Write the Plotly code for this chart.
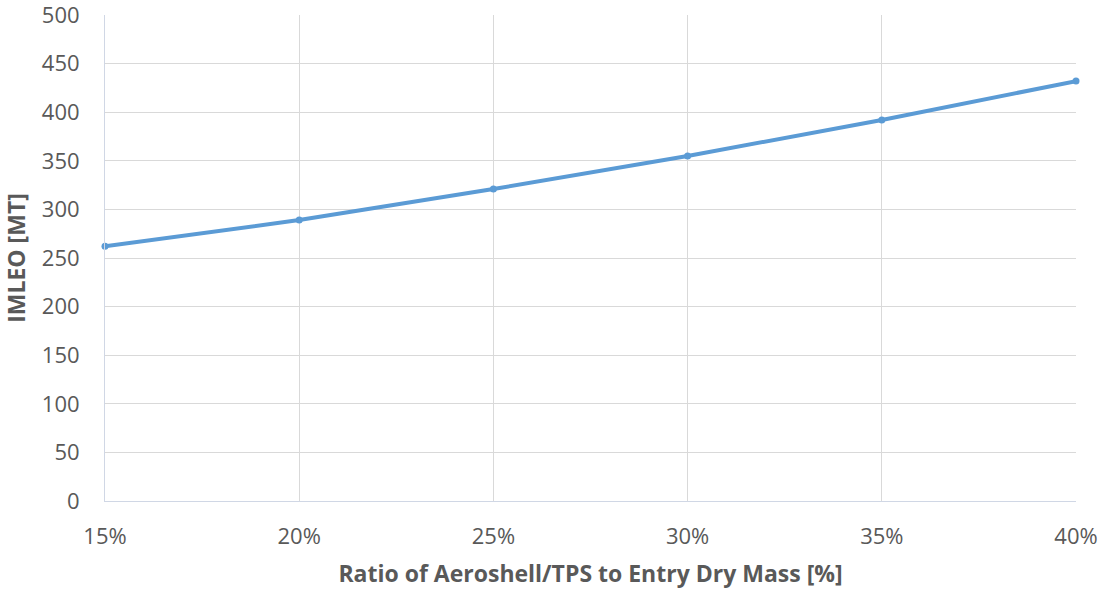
import plotly.graph_objects as go

ratio_pct = [15, 20, 25, 30, 35, 40]
imleo_mt = [262, 289, 321, 355, 392, 432]
x_tick_vals = [15, 20, 25, 30, 35, 40]
x_tick_text = ["15%", "20%", "25%", "30%", "35%", "40%"]
y_tick_vals = [0, 50, 100, 150, 200, 250, 300, 350, 400, 450, 500]

fig = go.Figure()
fig.add_trace(go.Scatter(
    x=ratio_pct, y=imleo_mt, mode="lines+markers",
    line=dict(color="#5B9BD5", width=4),
    marker=dict(color="#5B9BD5", size=7),
    showlegend=False, cliponaxis=False,
))

font_family = "Open Sans, Noto Sans, sans-serif"
fig.update_layout(
    width=1104, height=590,
    margin=dict(l=105, r=28, t=15, b=89, autoexpand=False),
    paper_bgcolor="white", plot_bgcolor="white",
    font=dict(family=font_family, color="#595959", size=22),
)
fig.update_xaxes(
    range=[15, 40], tickvals=x_tick_vals, ticktext=x_tick_text,
    showgrid=True, gridcolor="#D9D9D9", gridwidth=1,
    showline=True, linecolor="#D0D7E5", linewidth=1,
    zeroline=False, automargin=False, ticklabeloverflow="allow",
    ticks="outside", ticklen=16, tickcolor="rgba(0,0,0,0)",
    tickfont=dict(size=22, color="#595959"),
    title=dict(text="<b>Ratio of Aeroshell/TPS to Entry Dry Mass [%]</b>",
               font=dict(size=23, color="#595959"), standoff=16),
)
fig.update_yaxes(
    range=[0, 500], tickvals=y_tick_vals,
    showgrid=True, gridcolor="#D9D9D9", gridwidth=1,
    showline=True, linecolor="#D0D7E5", linewidth=1,
    zeroline=False, automargin=False, ticklabeloverflow="allow",
    ticks="outside", ticklen=20, tickcolor="rgba(0,0,0,0)",
    tickfont=dict(size=22, color="#595959"),
    title=dict(text="<b>IMLEO [MT]</b>",
               font=dict(size=23, color="#595959"), standoff=16),
)
fig.write_html(
    "out.html",
    config={"displayModeBar": False},
    post_script="document.body.style.margin='0';document.body.style.overflow='hidden';",
)
